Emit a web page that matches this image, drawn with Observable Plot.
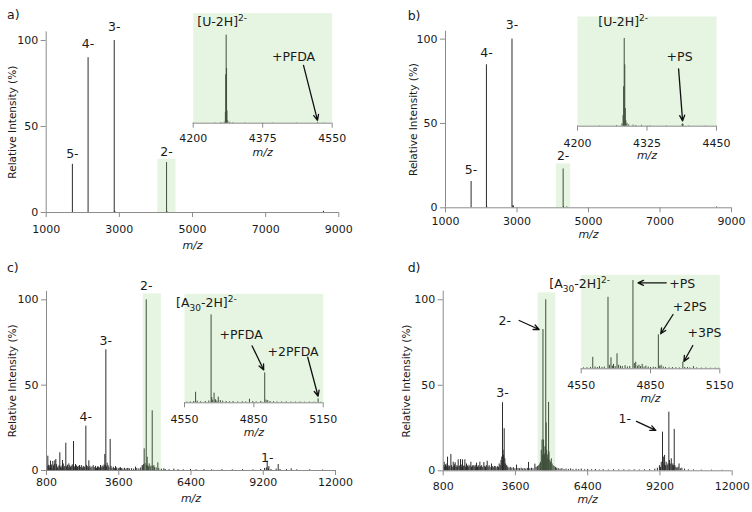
<!DOCTYPE html>
<html>
<head>
<meta charset="utf-8">
<script src="https://cdn.jsdelivr.net/npm/d3@7"></script>
<script src="https://cdn.jsdelivr.net/npm/@observablehq/plot@0.6"></script>
<style>
  body { margin: 0; background: #fff; font-family: "DejaVu Sans", sans-serif; }
  #fig { position: relative; width: 752px; height: 512px; overflow: hidden; background: #fff; }
  #fig svg { position: absolute; overflow: visible; }
  .tag { position: absolute; font-size: 12.5px; color: #1a1a1a; line-height: 14px; }
</style>
</head>
<body>
<div id="fig"></div>
<script>
// ---- spectra: [m/z, relative intensity %] ----
const specA = [[1716, 28], [2145, 90], [2860, 100], [2875, 0.7], [4291, 29], [4300, 0.6], [8583, 0.7]];
const specB = [[1716, 15.6], [2145, 84.8], [2152, 1], [2860, 100], [2885, 1.2], [2900, 1], [4291, 23], [4300, 0.8], [4395, 0.5], [8583, 0.5]];
const specC = [
  [820, 2.5], [852, 8.4], [880, 3], [905, 1.5], [930, 2.8], [955, 5.5], [990, 3.2], [1010, 1.2], [1045, 5.3], [1070, 2.6],
  [1100, 3.5], [1123, 5.7], [1161, 6.4], [1190, 3.4], [1230, 1.5], [1250, 2.2], [1290, 3], [1317, 10.4], [1340, 2], [1370, 1.4],
  [1400, 2.6], [1420, 5.9], [1450, 3.8], [1480, 1.9], [1510, 2.4], [1549, 16], [1580, 2.2], [1610, 3.1], [1640, 1.6], [1666, 3.9],
  [1700, 2.8], [1730, 1.8], [1760, 2.5], [1800, 3.3], [1847, 17], [1880, 2.1], [1924, 3.5], [1960, 2.7], [2000, 1.9], [2030, 2.4],
  [2079, 2.9], [2110, 1.8], [2150, 2.9], [2190, 1.4], [2220, 2.2], [2247, 2.3], [2280, 1.7], [2325, 26], [2350, 3], [2380, 2.3],
  [2420, 1.6], [2441, 5.7], [2480, 2.5], [2520, 1.5], [2560, 2], [2609, 2.9], [2650, 1.7], [2700, 2.4], [2740, 1.3], [2777, 2.1],
  [2810, 2], [2850, 1.5], [2893, 2.9], [2920, 1.8], [2960, 2.6], [3000, 2], [3030, 3.2], [3061, 9.4], [3080, 3], [3100, 70.7],
  [3120, 2.2], [3151, 4.3], [3190, 2.8], [3220, 1.6], [3268, 18.2], [3300, 2.4], [3340, 1.2], [3390, 1.9], [3430, 1.1], [3474, 2.3],
  [3520, 1.5], [3580, 1], [3620, 1.4], [3668, 1.6], [3700, 1.1], [3760, 0.9], [3820, 1.3], [3880, 0.8], [3927, 1.2], [3960, 1.2],
  [4020, 0.9], [4100, 1.1], [4180, 0.8], [4250, 2], [4300, 1.2], [4380, 1], [4450, 1.5], [4508, 2.9], [4530, 2.5], [4560, 3.5],
  [4586, 12.7], [4620, 4], [4665, 100], [4685, 3], [4702, 7.8], [4720, 2.8], [4750, 2.2], [4780, 3.9], [4820, 2], [4850, 2.6],
  [4897, 35], [4920, 2.4], [4960, 2.9], [4990, 1.8], [5050, 1.5], [5115, 4.5], [5150, 1.2], [5250, 0.8], [5348, 1], [5400, 0.6],
  [5550, 0.5], [5735, 0.8], [5900, 0.5], [6100, 0.4], [6381, 0.6], [6600, 0.4], [6900, 0.5], [7200, 0.4], [7600, 0.5], [8000, 0.4],
  [8400, 0.5], [8800, 0.4], [9100, 0.6], [9250, 1.2], [9320, 1.5], [9353, 5.5], [9400, 1], [9418, 2.3], [9500, 0.6], [9700, 0.8],
  [9779, 3.5], [9850, 0.6], [10100, 0.5], [10283, 1], [10500, 0.4], [11000, 0.4], [11500, 0.3]
];
const specD = [
  [820, 3], [839, 5], [860, 2], [890, 3.5], [920, 2.5], [945, 4], [968, 8], [990, 2], [1020, 3], [1050, 2.5],
  [1097, 9.5], [1120, 3], [1150, 2], [1188, 5], [1210, 2.5], [1240, 3.5], [1265, 4.7], [1300, 2], [1330, 3], [1350, 2.2],
  [1381, 6.4], [1420, 2.5], [1450, 3], [1472, 6.6], [1500, 2], [1520, 3.4], [1549, 6.4], [1580, 2.4], [1610, 3], [1640, 6.4],
  [1670, 2.2], [1704, 4], [1740, 2.8], [1770, 2], [1800, 3.2], [1840, 2.5], [1872, 5], [1900, 2], [1930, 2.8], [1963, 3],
  [2000, 2.4], [2040, 3.2], [2060, 2], [2092, 4.5], [2130, 2.2], [2160, 3], [2190, 2], [2221, 5], [2250, 2.4], [2290, 3],
  [2330, 2], [2376, 4.8], [2410, 2.6], [2440, 2], [2470, 3], [2505, 5.6], [2540, 2.2], [2580, 3], [2620, 2], [2673, 4],
  [2700, 2.5], [2740, 1.8], [2780, 2.6], [2815, 2.5], [2850, 1.8], [2900, 2.4], [2940, 2], [2970, 4], [3010, 3], [3040, 6],
  [3070, 8], [3098, 39.8], [3120, 12], [3140, 9], [3164, 24.6], [3190, 7], [3220, 4], [3260, 3], [3300, 2.2], [3350, 1.6],
  [3400, 2], [3460, 1.5], [3520, 1.8], [3580, 1.2], [3642, 3.3], [3700, 1.4], [3760, 1.2], [3820, 1.5], [3880, 1.1], [3940, 1.3],
  [4000, 1], [4060, 1.4], [4107, 4.9], [4160, 1.2], [4220, 1.5], [4280, 1.2], [4353, 3.9], [4400, 2], [4450, 2.5], [4500, 3],
  [4540, 4], [4570, 5], [4600, 12], [4630, 18], [4650, 9], [4666, 82.6], [4690, 18], [4705, 14], [4720, 9], [4740, 10],
  [4760, 14], [4774, 100], [4790, 28], [4810, 12], [4830, 9], [4850, 7], [4870, 10], [4884, 40], [4900, 11], [4930, 6],
  [4960, 5], [4990, 7], [5020, 4], [5060, 3], [5100, 2.5], [5150, 2], [5200, 1.5], [5260, 1.2], [5330, 1], [5400, 1.3],
  [5480, 0.8], [5560, 1], [5650, 0.8], [5740, 1.1], [5830, 0.7], [5950, 0.9], [6050, 0.7], [6150, 1], [6280, 0.6], [6400, 0.8],
  [6550, 0.6], [6700, 0.7], [6850, 0.5], [7000, 0.7], [7200, 0.5], [7400, 0.6], [7600, 0.5], [7800, 0.6], [8000, 0.5], [8200, 0.6],
  [8400, 0.5], [8600, 0.6], [8800, 0.7], [9000, 1], [9100, 1.5], [9180, 3], [9220, 2], [9250, 5], [9299, 22.6], [9330, 8],
  [9360, 4], [9380, 9], [9410, 3], [9440, 5], [9480, 3], [9510, 4], [9545, 34.3], [9570, 6], [9600, 4], [9640, 7],
  [9680, 3], [9700, 4], [9730, 3], [9753, 24.2], [9780, 3], [9820, 2], [9860, 1.5], [9900, 2], [9940, 4], [9990, 1.2],
  [10050, 1.5], [10150, 1], [10300, 0.6], [10500, 0.5], [10800, 0.4], [11200, 0.4], [11600, 0.3]
];

// zoomed regions of the 2- charge state
const insetA = [[4255, 0.4], [4270, 0.8], [4278, 1.2], [4281, 12], [4282, 55], [4283, 100], [4284, 62], [4285, 14], [4287, 2.5],
  [4292, 1], [4300, 0.6], [4330, 0.4], [4400, 0.3], [4460, 0.3], [4513, 1], [4530, 0.3]];
const insetB = [[4240, 0.4], [4270, 0.8], [4280, 2.5], [4282, 12], [4283, 45], [4284, 100], [4285, 70], [4286, 20], [4287, 6],
  [4289, 3], [4292, 1.5], [4300, 1.2], [4305, 0.8], [4315, 1], [4330, 0.5], [4360, 0.4], [4388, 1.8], [4389, 2.6], [4390, 1.5],
  [4400, 0.4], [4430, 0.3]];
const insetC = [[4560, 0.8], [4575, 1], [4590, 1.5], [4598, 12], [4605, 1.8], [4620, 1.2], [4640, 1.5], [4655, 2], [4665, 100],
  [4668, 6], [4672, 3], [4678, 11], [4684, 3.5], [4690, 2], [4696, 6.5], [4705, 2.5], [4715, 1.8], [4730, 1.5], [4745, 1.2],
  [4760, 1.4], [4780, 1], [4800, 1.2], [4815, 1], [4831, 4], [4845, 1.3], [4860, 1], [4880, 1.5], [4897, 34], [4903, 3],
  [4910, 2.5], [4920, 1.5], [4935, 1.2], [4950, 1], [4970, 0.9], [4990, 1], [5010, 0.8], [5030, 0.8], [5050, 0.9], [5070, 0.7],
  [5090, 0.8], [5110, 0.7], [5128, 4.5], [5140, 0.6]];
const insetD = [[4560, 1], [4575, 1.2], [4590, 1.6], [4600, 13], [4610, 2], [4620, 1.4], [4629, 2.5], [4640, 1.5], [4650, 2],
  [4666, 81], [4672, 4], [4679, 12.5], [4685, 3], [4690, 5], [4697, 2.5], [4705, 17], [4712, 4], [4720, 3], [4728, 2.5],
  [4740, 3.5], [4750, 2], [4760, 2.5], [4774, 100], [4780, 6], [4786, 7.5], [4793, 3], [4800, 4], [4807, 2.5], [4814, 5],
  [4822, 2], [4830, 3], [4840, 2], [4850, 1.5], [4862, 1.8], [4872, 1.5], [4884, 38.5], [4890, 3], [4896, 4], [4905, 2],
  [4915, 1.5], [4930, 1.2], [4945, 1.4], [4960, 1.2], [4975, 1], [4990, 7.5], [4998, 1.5], [5010, 1.5], [5020, 1], [5036, 2.5],
  [5050, 1], [5070, 0.8], [5090, 0.9], [5110, 0.7], [5130, 0.8], [5145, 0.6]];

// charge-state labels: [label, m/z]
const chargesA = [["5-", 1716], ["4-", 2145], ["3-", 2860], ["2-", 4291]];
const chargesB = [["5-", 1716], ["4-", 2145], ["3-", 2860], ["2-", 4291]];
const chargesC = [["4-", 2325], ["3-", 3100], ["2-", 4665], ["1-", 9353]];
const chargesD = [["3-", 3098], ["2-", 4666], ["1-", 9299]];

// highlighted windows: [m/z from, m/z to, height]
const windowA = [4050, 4550, 31];
const windowB = [4100, 4500, 26];
const windowC = [4550, 5250, 103.5];
const windowD = [4480, 5165, 104];

// axis ticks
const ticksAB = [1000, 3000, 5000, 7000, 9000];
const ticksCD = [800, 3600, 6400, 9200, 12000];
const ticksInsetA = [4200, 4375, 4550];
const ticksInsetB = [4200, 4325, 4450];
const ticksInsetCD = [4550, 4850, 5150];

// inset labels: [text, m/z of the marked peak]
const ionLabelA = ["[U-2H]^{2-}", 4283];
const ionLabelB = ["[U-2H]^{2-}", 4284];
const ionLabelC = ["[A_{30}-2H]^{2-}", 4665];
const ionLabelD = ["[A_{30}-2H]^{2-}", 4666];
const adductsA = [["+PFDA", 4513]];
const adductsB = [["+PS", 4389]];
const adductsC = [["+PFDA", 4897], ["+2PFDA", 5128]];
const adductsD = [["+PS", 4774], ["+2PS", 4884], ["+3PS", 4990]];

// ---------------------------------------------------------------
const FONT = "DejaVu Sans";
const AXIS = "#8c8c8c";
const INK = "#1a1a1a";
const PEAK = "#2b2b2b";
const GREEN = "#8fd27a";
const fig = document.getElementById("fig");

const heightAt = (spec, mz) => spec.find(d => d[0] === mz)[1];

// turn ^{..} and _{..} into raised / lowered tspans
function richText(svg) {
  svg.querySelectorAll("text").forEach(t => {
    const s = t.textContent;
    if (!/[\^_]\{/.test(s)) return;
    const re = /([\^_])\{([^}]*)\}/g;
    const parts = [];
    let last = 0, m;
    while ((m = re.exec(s))) {
      if (m.index > last) parts.push({ t: s.slice(last, m.index), k: "" });
      parts.push({ t: m[2], k: m[1] });
      last = re.lastIndex;
    }
    if (last < s.length) parts.push({ t: s.slice(last), k: "" });
    t.textContent = "";
    let shift = 0;
    for (const p of parts) {
      const ts = document.createElementNS("http://www.w3.org/2000/svg", "tspan");
      const target = p.k === "^" ? -5 : p.k === "_" ? 3.5 : 0;
      ts.setAttribute("dy", target - shift);
      shift = target;
      if (p.k) ts.setAttribute("font-size", "9");
      ts.textContent = p.t;
      t.appendChild(ts);
    }
  });
}

function place(node, left, top) {
  node.style.position = "absolute";
  node.style.left = left + "px";
  node.style.top = top + "px";
  fig.appendChild(node);
  richText(node);
}

// pixel-offset helpers: convert screen offsets into data units for a panel
function scaler(cfg) {
  const kx = (cfg.x[1] - cfg.x[0]) / (cfg.w - cfg.m[0] - cfg.m[1]);
  const ky = cfg.yTop / (cfg.h - cfg.m[2] - cfg.m[3]);
  return (mz, v, dx, dy) => [mz + dx * kx, v - dy * ky];
}

// text + arrow pointing at a peak; offsets are in pixels from the peak top
function pointer(spec, cfg, text, mz, o) {
  const at = scaler(cfg);
  const v = heightAt(spec, mz);
  const [x1, y1] = at(mz, v, o.tail[0], o.tail[1]);
  const [x2, y2] = at(mz, v, o.tip[0], o.tip[1]);
  return [
    Plot.arrow([0], { x1: () => x1, y1: () => y1, x2: () => x2, y2: () => y2,
      stroke: "#111", strokeWidth: 1.3, headLength: 7, headAngle: 48 }),
    Plot.text([text], { x: () => mz, y: () => v, dx: o.label[0], dy: o.label[1],
      textAnchor: o.anchor || "middle", lineAnchor: "middle", fontSize: 12.5, fill: INK })
  ];
}

const axisLabel = (cfg) =>
  Plot.text(["m/z"], { frameAnchor: "bottom", dy: cfg.mzDy, textAnchor: "middle", lineAnchor: "middle",
    fontStyle: "italic", fontSize: 11, fill: INK });

function mainPanel(cfg) {
  const [x0] = cfg.x;
  const plot = Plot.plot({
    width: cfg.w, height: cfg.h,
    marginLeft: cfg.m[0], marginRight: cfg.m[1], marginTop: cfg.m[2], marginBottom: cfg.m[3],
    style: { background: "transparent", fontFamily: FONT, fontSize: "11px", color: INK, overflow: "visible" },
    x: { domain: cfg.x },
    y: { domain: [0, cfg.yTop] },
    marks: [
      Plot.ruleX(cfg.spec, { x: d => d[0], y1: () => 0, y2: d => d[1], stroke: PEAK, strokeWidth: 1 }),
      Plot.rect([cfg.win], { x1: d => d[0], x2: d => d[1], y1: () => 0, y2: d => d[2], fill: GREEN, fillOpacity: 0.22 }),
      Plot.ruleY([0], { stroke: AXIS }),
      Plot.ruleX([x0], { stroke: AXIS }),
      Plot.axisX({ ticks: cfg.ticks, tickSize: 5, tickPadding: cfg.tickPad, tickFormat: d => String(d),
        label: null, stroke: AXIS, fontSize: 11 }),
      Plot.axisY({ ticks: [0, 50, 100], tickSize: 5, tickPadding: 3, label: null, stroke: AXIS, fontSize: 11 }),
      axisLabel(cfg),
      Plot.text(["Relative Intensity (%)"], { frameAnchor: "left", rotate: -90, dx: cfg.titleDx,
        textAnchor: "middle", lineAnchor: "middle", fontSize: 10.5, fill: INK }),
      ...cfg.labels.map(([z, mz, dy]) =>
        Plot.text([z], { x: () => mz, y: () => heightAt(cfg.spec, mz), dy, lineAnchor: "middle", fontSize: 12.5, fill: INK })),
      ...(cfg.pointers || []).flatMap(([z, mz, o]) => pointer(cfg.spec, cfg, z, mz, o))
    ]
  });
  place(plot, cfg.left, cfg.top);
}

function insetPanel(cfg) {
  const plot = Plot.plot({
    width: cfg.w, height: cfg.h,
    marginLeft: cfg.m[0], marginRight: cfg.m[1], marginTop: cfg.m[2], marginBottom: cfg.m[3],
    style: { background: "transparent", fontFamily: FONT, fontSize: "11px", color: INK, overflow: "visible" },
    x: { domain: cfg.x },
    y: { domain: [0, cfg.yTop], axis: null },
    marks: [
      Plot.ruleX(cfg.spec, { x: d => d[0], y1: () => 0, y2: d => d[1], stroke: PEAK, strokeWidth: 1 }),
      Plot.frame({ fill: GREEN, fillOpacity: 0.22, stroke: "none" }),
      Plot.ruleY([0], { stroke: AXIS }),
      Plot.axisX({ ticks: cfg.ticks, tickSize: 5, tickPadding: cfg.tickPad, tickFormat: d => String(d),
        label: null, stroke: AXIS, fontSize: 11 }),
      axisLabel(cfg),
      Plot.text([cfg.ion[0]], { x: () => cfg.ion[1], y: () => heightAt(cfg.spec, cfg.ion[1]),
        dx: cfg.ionOff[0], dy: cfg.ionOff[1], textAnchor: cfg.ionAnchor || "middle", lineAnchor: "middle",
        fontSize: 12.5, fill: INK }),
      ...cfg.adducts.flatMap(([t, mz], i) => pointer(cfg.spec, cfg, t, mz, cfg.adductOff[i]))
    ]
  });
  place(plot, cfg.left, cfg.top);
}

// ---- main spectra ----
mainPanel({ left: 0, top: 0, w: 376, h: 250, m: [45.7, 37.7, 31.4, 38], x: [1000, 9000], yTop: 105,
  spec: specA, win: windowA, ticks: ticksAB, tickPad: 7.5, mzDy: 33, titleDx: -33.7,
  labels: chargesA.map(([z, mz], i) => [z, mz, [-10.5, -13.9, -13.3, -11.1][i]]) });

mainPanel({ left: 376, top: 0, w: 376, h: 250, m: [69, 21, 30.7, 42.7], x: [1000, 9000], yTop: 104.7,
  spec: specB, win: windowB, ticks: ticksAB, tickPad: 4.3, mzDy: 26.5, titleDx: -32.3,
  labels: chargesB.map(([z, mz], i) => [z, mz, [-11, -11.6, -13.7, -12.6][i]]) });

mainPanel({ left: 0, top: 250, w: 376, h: 262, m: [46, 41, 40.8, 42], x: [800, 12000], yTop: 105,
  spec: specC, win: windowC, ticks: ticksCD, tickPad: 3, mzDy: 28.3, titleDx: -34,
  labels: chargesC.map(([z, mz], i) => [z, mz, [-8.9, -8.6, -13.6, -3][i]]) });

mainPanel({ left: 376, top: 250, w: 376, h: 262, m: [66.7, 20.3, 40.7, 41.7], x: [800, 12000], yTop: 105,
  spec: specD, win: windowD, ticks: ticksCD, tickPad: 6.8, mzDy: 28.5, titleDx: -36.7,
  labels: [[chargesD[0][0], chargesD[0][1], -9.5]],
  pointers: [
    [chargesD[1][0], chargesD[1][1], { tip: [-3.8, 0], tail: [-23.8, -9], label: [-38.2, -8.3] }],
    [chargesD[2][0], chargesD[2][1], { tip: [-6.7, -1.7], tail: [-26, -10.7], label: [-37.7, -13.4] }]
  ] });

// ---- zoomed insets ----
insetPanel({ left: 150, top: 0, w: 200, h: 165, m: [42.7, 18.3, 12.7, 42.3], x: [4200, 4550], yTop: 125,
  spec: insetA, ticks: ticksInsetA, tickPad: 6.4, mzDy: 29.3,
  ion: ionLabelA, ionOff: [-4, -13], adducts: adductsA,
  adductOff: [{ tip: [0, -2], tail: [-14, -57], label: [-24, -65] }] });

insetPanel({ left: 540, top: 0, w: 200, h: 170, m: [37, 24, 16, 44.3], x: [4200, 4450], yTop: 125,
  spec: insetB, ticks: ticksInsetB, tickPad: 7.5, mzDy: 29.2,
  ion: ionLabelB, ionOff: [-1, -16], adducts: adductsB,
  adductOff: [{ tip: [0, -3], tail: [-4, -55], label: [-3, -67] }] });

insetPanel({ left: 150, top: 260, w: 200, h: 190, m: [34, 27.3, 33.3, 47.7], x: [4550, 5150], yTop: 124,
  spec: insetC, ticks: ticksInsetCD, tickPad: 7.8, mzDy: 29.6,
  ion: ionLabelC, ionOff: [-4.7, -11.6], adducts: adductsC,
  adductOff: [
    { tip: [-1, -3], tail: [-12.6, -27], label: [-23.6, -38] },
    { tip: [0, -2.6], tail: [-10.4, -41.6], label: [-25, -47.3] }
  ] });

insetPanel({ left: 540, top: 255, w: 200, h: 160, m: [40.7, 20.7, 19.3, 46.7], x: [4550, 5150], yTop: 106.5,
  spec: insetD, ticks: ticksInsetCD, tickPad: 7.3, mzDy: 29.6,
  ion: ionLabelD, ionOff: [2, -13], ionAnchor: "end", adducts: adductsD,
  adductOff: [
    { tip: [5, 2.3], tail: [33.3, 2.3], label: [36.3, 3.3], anchor: "start" },
    { tip: [2.3, -1], tail: [14.7, -20.3], label: [31.3, -27.6] },
    { tip: [1, -0.7], tail: [10, -16.7], label: [21.6, -29.4] }
  ] });

// ---- panel letters ----
[["a)", 7, 8], ["b)", 407.7, 8.5], ["c)", 7, 261], ["d)", 407.7, 260.5]].forEach(([t, x, y]) => {
  const d = document.createElement("div");
  d.className = "tag";
  d.style.left = x + "px";
  d.style.top = y + "px";
  d.textContent = t;
  fig.appendChild(d);
});
</script>
</body>
</html>
